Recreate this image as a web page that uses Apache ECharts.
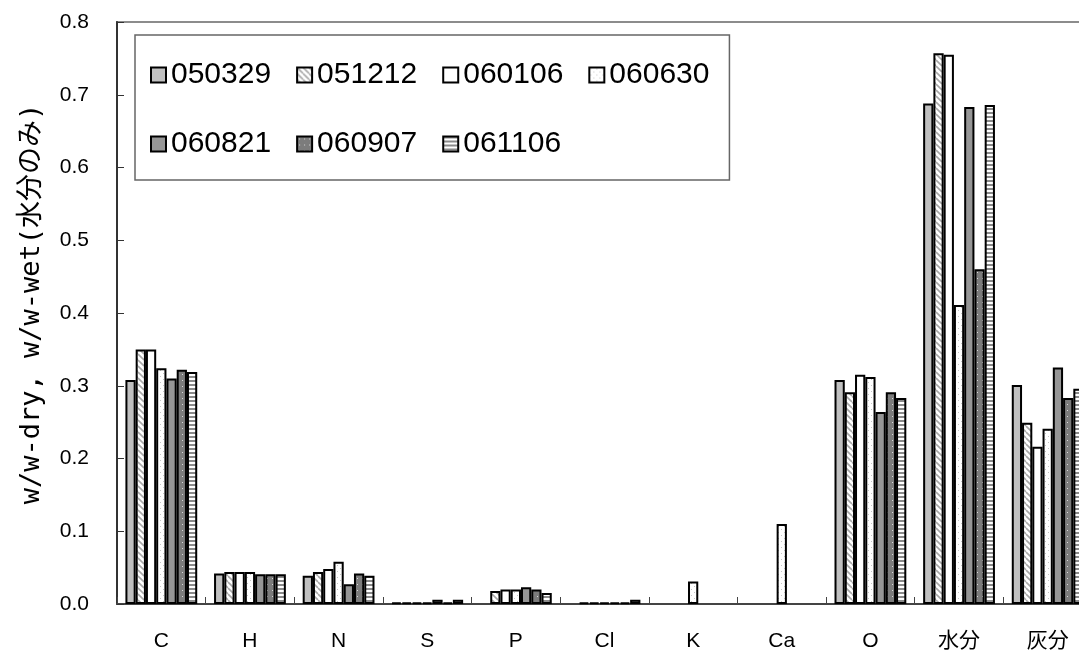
<!DOCTYPE html>
<html>
<head>
<meta charset="utf-8">
<script src="https://cdn.jsdelivr.net/npm/echarts@6/dist/echarts.min.js"></script>
<style>
  html, body { margin: 0; padding: 0; background: #fff; overflow: hidden; width: 1079px; height: 653px; }
  /* the plot runs a little past the right edge of the window */
  #chart { width: 1093px; height: 653px; }
</style>
</head>
<body>
<div id="chart"></div>
<script>
// Element categories along the x axis
const categories = ['C', 'H', 'N', 'S', 'P', 'Cl', 'K', 'Ca', 'O', '水分', '灰分'];

// Sample dates (legend entries)
const sampleNames = ['050329', '051212', '060106', '060630', '060821', '060907', '061106'];

// Mass fractions per sample, in category order (null = not measured)
const v050329 = [0.308, 0.042, 0.039, 0.002, null,  null,  null,  null,  0.308, 0.688, 0.301];
const v051212 = [0.350, 0.044, 0.044, 0.002, 0.018, 0.002, null,  null,  0.291, 0.757, 0.249];
const v060106 = [0.350, 0.044, 0.048, 0.002, 0.020, 0.002, null,  null,  0.315, 0.755, 0.216];
const v060630 = [0.324, 0.044, 0.058, 0.002, 0.020, 0.002, 0.031, 0.110, 0.312, 0.411, 0.241];
const v060821 = [0.310, 0.041, 0.027, 0.006, 0.023, 0.002, null,  null,  0.264, 0.683, 0.325];
const v060907 = [0.322, 0.041, 0.042, 0.002, 0.020, 0.002, null,  null,  0.291, 0.460, 0.283];
const v061106 = [0.319, 0.041, 0.039, 0.006, 0.015, 0.006, null,  null,  0.283, 0.686, 0.296];

// Y axis range
const yMin = 0.0;
const yMax = 0.8;
const yStep = 0.1;

const seriesValues = [v050329, v051212, v060106, v060630, v060821, v060907, v061106];

// Small repeating canvas tiles used as bar fills
function makePattern(w, h, draw) {
  const c = document.createElement('canvas');
  c.width = w; c.height = h;
  const g = c.getContext('2d');
  draw(g, w, h);
  return { image: c, repeat: 'repeat' };
}

const hatchFill = makePattern(6, 6, (g, w, h) => {
  g.fillStyle = '#ffffff'; g.fillRect(0, 0, w, h);
  g.strokeStyle = '#a8a8a8'; g.lineWidth = 1.6;
  for (let k = -6; k <= 6; k += 6) {
    g.beginPath(); g.moveTo(k, 0); g.lineTo(k + 6, 6); g.stroke();
  }
});

const lightDotFill = makePattern(6, 6, (g, w, h) => {
  g.fillStyle = '#ffffff'; g.fillRect(0, 0, w, h);
  g.fillStyle = '#c4c4c4';
  g.fillRect(1, 1, 1, 1);
  g.fillRect(4, 4, 1, 1);
});

const darkDotFill = makePattern(5, 6, (g, w, h) => {
  g.fillStyle = '#7c7c7c'; g.fillRect(0, 0, w, h);
  g.fillStyle = '#d8d8d8';
  g.fillRect(2, 2, 1, 1);
});

const stripeFill = makePattern(4, 4, (g, w, h) => {
  g.fillStyle = '#ffffff'; g.fillRect(0, 0, w, h);
  g.fillStyle = '#8a8a8a'; g.fillRect(0, 0, w, 2);
});

const fills = ['#c0c0c0', hatchFill, '#ffffff', lightDotFill, '#969696', darkDotFill, stripeFill];

const chart = echarts.init(document.getElementById('chart'), null, { renderer: 'canvas' });

const baseFont = 'Liberation Sans, Arial, sans-serif';

chart.setOption({
  animation: false,
  backgroundColor: '#ffffff',
  grid: {
    left: 117,
    right: 1,
    top: 22,
    bottom: 49,
    show: true,
    borderColor: '#8c8c8c',
    borderWidth: 2,
    backgroundColor: 'transparent'
  },
  legend: {
    left: 135,
    top: 35,
    width: 580,
    orient: 'horizontal',
    padding: [18, 20, 14, 15],
    itemGap: 25,
    itemWidth: 15,
    itemHeight: 15,
    selectedMode: false,
    backgroundColor: '#ffffff',
    borderColor: '#666666',
    borderWidth: 1.5,
    icon: 'rect',
    textStyle: {
      fontFamily: baseFont,
      fontSize: 30,
      color: '#000',
      lineHeight: 44
    },
    data: sampleNames
  },
  xAxis: {
    type: 'category',
    data: categories,
    boundaryGap: true,
    axisLine: { show: true, lineStyle: { color: '#444', width: 2 } },
    axisTick: { show: true, inside: true, length: 7, alignWithLabel: false, lineStyle: { color: '#444', width: 1 } },
    axisLabel: {
      margin: 27,
      fontFamily: 'Liberation Sans, Noto Sans CJK JP, sans-serif',
      fontSize: 21,
      color: '#000',
      interval: 0
    },
    splitLine: { show: false }
  },
  yAxis: {
    type: 'value',
    min: yMin,
    max: yMax,
    interval: yStep,
    name: 'w/w-dry, w/w-wet(水分のみ)',
    nameLocation: 'middle',
    nameGap: 72,
    nameRotate: 90,
    nameTextStyle: {
      fontFamily: 'DejaVu Sans Mono, Noto Sans CJK JP, monospace',
      fontSize: 27,
      color: '#000',
      padding: [0, 0, 0, 18]
    },
    axisLine: { show: true, lineStyle: { color: '#333', width: 2 } },
    axisTick: { show: true, inside: true, length: 7, lineStyle: { color: '#333', width: 1 } },
    axisLabel: {
      margin: 28,
      fontFamily: baseFont,
      fontSize: 21,
      color: '#000',
      formatter: (v) => v.toFixed(1)
    },
    splitLine: { show: false }
  },
  series: sampleNames.map((name, i) => ({
    name: name,
    type: 'bar',
    data: seriesValues[i],
    barGap: '0%',
    barCategoryGap: '19%',
    itemStyle: {
      color: fills[i],
      borderColor: '#000',
      borderWidth: 2
    },
    emphasis: { disabled: true }
  }))
});
</script>
</body>
</html>
